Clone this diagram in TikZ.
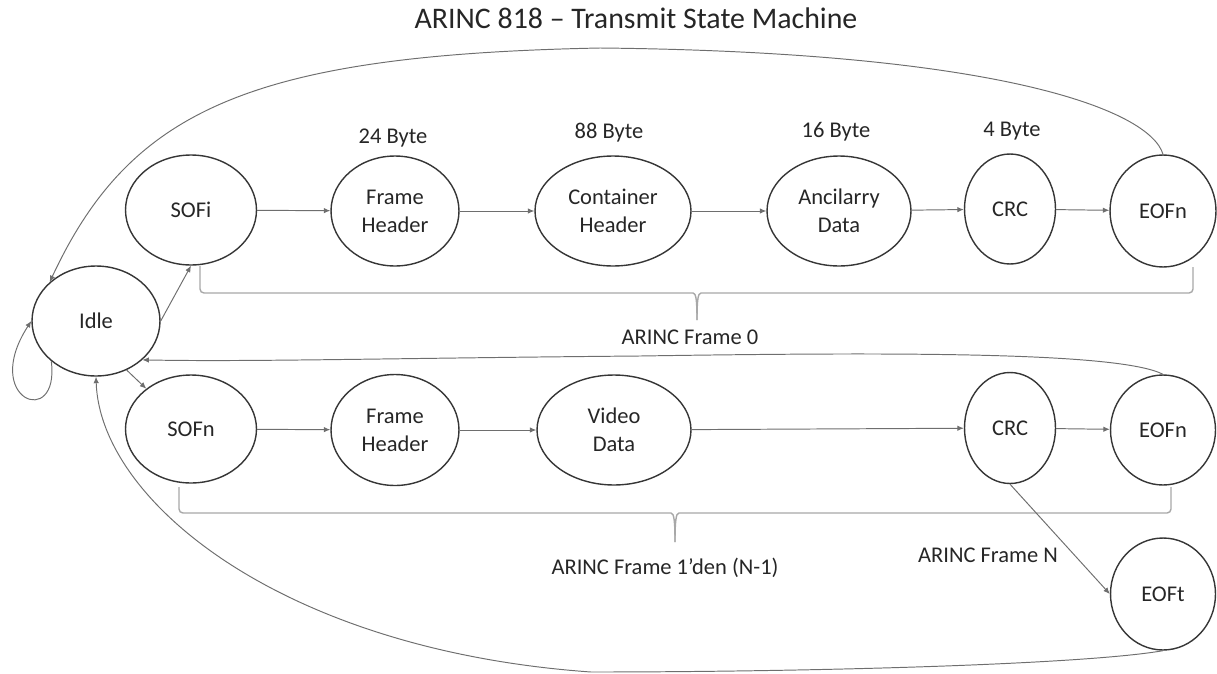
\documentclass[tikz,border=0pt]{standalone}
\usepackage{fontspec}
\setmainfont{Carlito}
\usepackage{xcolor}
\usepackage{tikz}
\usetikzlibrary{shapes,arrows.meta,positioning,calc}
\definecolor{smdark}{HTML}{363636}
\definecolor{smline}{HTML}{6E6E6E}
\definecolor{smbrace}{HTML}{A8A8A8}
\definecolor{smtext}{HTML}{262626}

\begin{document}
\begin{tikzpicture}[
    x=0.02cm,y=-0.02cm,
    st/.style   = {ellipse,draw=smdark,line width=0.8pt,align=center,inner sep=0pt,
                   text=smtext,font=\fontsize{12.8}{15.9}\selectfont,
                   minimum height=2.2cm},
    fl/.style   = {-{Latex[length=1.3mm,width=1.1mm]},smline,line width=0.55pt},
    brc/.style  = {smbrace,line width=0.8pt,rounded corners=0.08cm},
    lbl/.style  = {text=smtext,font=\fontsize{12.8}{15.9}\selectfont,inner sep=1pt},
  ]
  \useasboundingbox (0,0) rectangle (1217,673);

  \node[lbl,font=\fontsize{17}{20}\selectfont] (title) at (636,18)
       {ARINC 818 – Transmit State Machine};

  % idle state
  \node[st,minimum width=2.56cm] (idle) at (96,321) {Idle};

  % frame 0
  \node[st,minimum width=2.62cm] (sofi) at (191,210) {SOFi};
  \node[st,minimum width=2.56cm] (fhi)  at (395,211) {Frame\\Header};
  \node[st,minimum width=3.12cm] (chi)  at (613,211) {Container\\Header};
  \node[st,minimum width=2.88cm] (adi)  at (839,211) {Ancilarry\\Data};
  \node[st,minimum width=1.82cm] (crci) at (1010,209) {CRC};
  \node[st,minimum width=2.12cm,minimum height=2.24cm] (eofi) at (1163,211) {EOFn};

  \node[lbl] (b24) at (393,138)  {24 Byte};
  \node[lbl] (b88) at (609,133)  {88 Byte};
  \node[lbl] (b16) at (836,132)  {16 Byte};
  \node[lbl] (b4)  at (1012,131) {4 Byte};

  % frames 1 .. N
  \node[st,minimum width=2.62cm,minimum height=2.16cm] (sofn) at (191,429) {SOFn};
  \node[st,minimum width=2.56cm,minimum height=2.22cm] (fhn)  at (395,430) {Frame\\Header};
  \node[st,minimum width=3.08cm] (vdn)  at (614,430) {Video\\Data};
  \node[st,minimum width=1.82cm,minimum height=2.22cm] (crcn) at (1010,428) {CRC};
  \node[st,minimum width=2.1cm]  (eofn) at (1163,430) {EOFn};
  \node[st,minimum width=2.1cm,minimum height=2.24cm] (eoft) at (1163,594) {EOFt};

  \node[lbl] (fr0) at (690,337) {ARINC Frame 0};
  \node[lbl] (frn) at (665,568) {ARINC Frame 1’den (N-1)};
  \node[lbl] (frl) at (988,555) {ARINC Frame N};

  % braces
  \draw[brc] (200,266) |- (689,293) .. controls (696,293) and (697,300) .. (697,320);
  \draw[brc] (1193,267) |- (705,293) .. controls (698,293) and (697,300) .. (697,320);
  \draw[brc] (179,487) |- (667,513) .. controls (674,513) and (675,521) .. (675,542);
  \draw[brc] (1171,487) |- (683,513) .. controls (676,513) and (675,521) .. (675,542);

  % transitions
  \draw[fl] (idle.east) -- (sofi.south);
  \draw[fl] (idle.-58) -- (sofn.138);
  \draw[fl] (idle.222) .. controls (60,430) and (-20,400) .. (idle.west);

  \draw[fl] (sofi) -- (fhi);
  \draw[fl] (fhi) -- (chi);
  \draw[fl] (chi) -- (adi);
  \draw[fl] (adi) -- (crci);
  \draw[fl] (crci) -- (eofi);

  \draw[fl] (sofn) -- (fhn);
  \draw[fl] (fhn) -- (vdn);
  \draw[fl] (vdn) -- (crcn);
  \draw[fl] (crcn) -- (eofn);
  \draw[fl] (crcn.south) -- (eoft.west);

  \draw[fl] (eofi.north) .. controls (1150,110) and (1000,52) .. (600,48)
            .. controls (250,55) and (130,110) .. (idle.140);
  \draw[fl] (eofn.north) .. controls (1120,352) and (900,352) .. (640,356)
            .. controls (400,358) and (250,362) .. (idle.-40);
  \draw[fl] (eoft.south) .. controls (1080,665) and (800,672) .. (591,672)
            .. controls (280,650) and (100,500) .. (idle.south);

\end{tikzpicture}
\end{document}
